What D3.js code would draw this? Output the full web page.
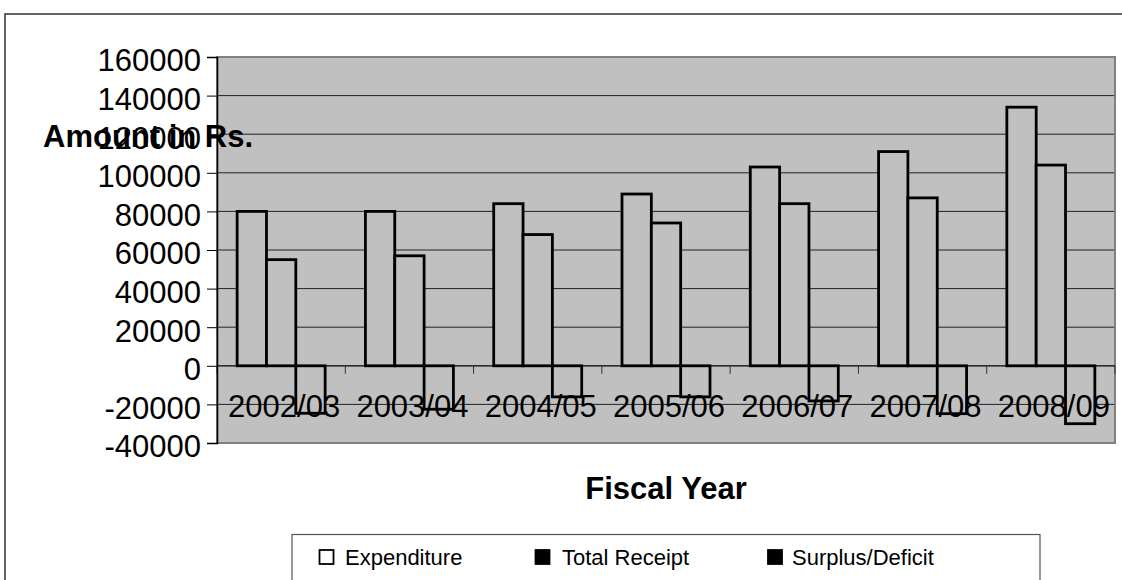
<!DOCTYPE html>
<html>
<head>
<meta charset="utf-8">
<script src="https://cdn.jsdelivr.net/npm/d3@7/dist/d3.min.js"></script>
<style>
html,body{margin:0;padding:0;background:#fff;}
svg{display:block;font-family:"Liberation Sans",Arial,sans-serif;}
</style>
</head>
<body>
<svg id="chart" width="1122" height="580"></svg>
<script>
const categories = ["2002/03","2003/04","2004/05","2005/06","2006/07","2007/08","2008/09"];
const seriesNames = ["Expenditure","Total Receipt","Surplus/Deficit"];
const expenditure = [80000, 80000, 84000, 89000, 103000, 111000, 134000];
const totalReceipt = [55000, 57000, 68000, 74000, 84000, 87000, 104000];
const surplusDeficit = [-24600, -22500, -16100, -16100, -18200, -24800, -30000];
const yTicks = [-40000,-20000,0,20000,40000,60000,80000,100000,120000,140000,160000];

const seriesValues = [expenditure, totalReceipt, surplusDeficit];

const svg = d3.select("#chart");
const L = 217, R = 1115, T = 57, B = 443;

// outer frame
svg.append("rect").attr("x",5).attr("y",14).attr("width",1140).attr("height",600)
  .attr("fill","none").attr("stroke","#333").attr("stroke-width",1.5);

const y = d3.scaleLinear().domain([-40000,160000]).range([B,T]);
const x0 = d3.scaleBand().domain(categories).range([L,R]).padding(0);
const step = x0.step();
const gap = step - 88;
const x1 = d3.scaleBand().domain(seriesNames).range([gap/2, step-gap/2]).padding(0);

// plot background
svg.append("rect").attr("x",L).attr("y",T).attr("width",R-L).attr("height",B-T)
  .attr("fill","#c0c0c0");

// gridlines
svg.append("g").selectAll("line").data(yTicks.filter(d=>d!==-40000 && d!==160000 && d!==0)).join("line")
  .attr("x1",L).attr("x2",R).attr("y1",d=>y(d)).attr("y2",d=>y(d))
  .attr("stroke","#222").attr("stroke-width",1);

// plot border (gray)
svg.append("rect").attr("x",L).attr("y",T).attr("width",R-L).attr("height",B-T)
  .attr("fill","none").attr("stroke","#808080").attr("stroke-width",2);

// bars
const rows = [];
categories.forEach((c,i)=>{
  seriesNames.forEach((s,j)=>{
    rows.push({c, s, v: seriesValues[j][i]});
  });
});
svg.append("g").selectAll("rect").data(rows).join("rect")
  .attr("x",d=>x0(d.c)+x1(d.s))
  .attr("width",x1.bandwidth())
  .attr("y",d=>y(Math.max(0,d.v)))
  .attr("height",d=>Math.abs(y(d.v)-y(0)))
  .attr("fill","#c0c0c0").attr("stroke","#000").attr("stroke-width",2.8);

// zero line / category axis
svg.append("line").attr("x1",L).attr("x2",R).attr("y1",y(0)).attr("y2",y(0))
  .attr("stroke","#000").attr("stroke-width",1.2);
const bounds = categories.map(c=>x0(c)).concat([R]);
svg.append("g").selectAll("line").data(bounds).join("line")
  .attr("x1",d=>d).attr("x2",d=>d).attr("y1",y(0)).attr("y2",y(0)+8)
  .attr("stroke","#333").attr("stroke-width",1);

// y axis
const yAxis = d3.axisLeft(y).tickValues(yTicks).tickSize(10).tickFormat(d=>String(d));
const gy = svg.append("g").attr("transform",`translate(${L},0)`).call(yAxis);
gy.select(".domain").attr("stroke","#000").attr("stroke-width",1.5);
gy.selectAll(".tick line").attr("stroke","#000").attr("stroke-width",1);
gy.selectAll(".tick text").attr("font-size",31).attr("fill","#000")
  .attr("font-family","'Liberation Sans',Arial,sans-serif")
  .attr("x",-16).attr("dy","0.45em");

// category labels
svg.append("g").selectAll("text").data(categories).join("text")
  .attr("x",d=>x0(d)+step/2+3).attr("y",417)
  .attr("text-anchor","middle").attr("font-size",31).attr("fill","#000")
  .text(d=>d);

// axis titles
svg.append("text").attr("x",43).attr("y",147).attr("font-size",31).attr("font-weight","bold")
  .attr("fill","#000").text("Amount in Rs.");
svg.append("text").attr("x",(L+R)/2).attr("y",499).attr("text-anchor","middle")
  .attr("font-size",31).attr("font-weight","bold").attr("fill","#000").text("Fiscal Year");

// legend
svg.append("rect").attr("x",292).attr("y",534.5).attr("width",748).attr("height",80)
  .attr("fill","#fff").attr("stroke","#555").attr("stroke-width",1.2);
const legendItems = [
  {name:seriesNames[0], sx:319.5, tx:345, fill:"#fff"},
  {name:seriesNames[1], sx:535.5, tx:562, fill:"#000"},
  {name:seriesNames[2], sx:768, tx:792, fill:"#000"}
];
const lg = svg.append("g").selectAll("g").data(legendItems).join("g");
lg.append("rect").attr("x",d=>d.sx).attr("y",550).attr("width",14).attr("height",14)
  .attr("fill",d=>d.fill).attr("stroke","#000").attr("stroke-width",1.8);
lg.append("text").attr("x",d=>d.tx).attr("y",565).attr("font-size",22).attr("fill","#000")
  .text(d=>d.name);
</script>
</body>
</html>
